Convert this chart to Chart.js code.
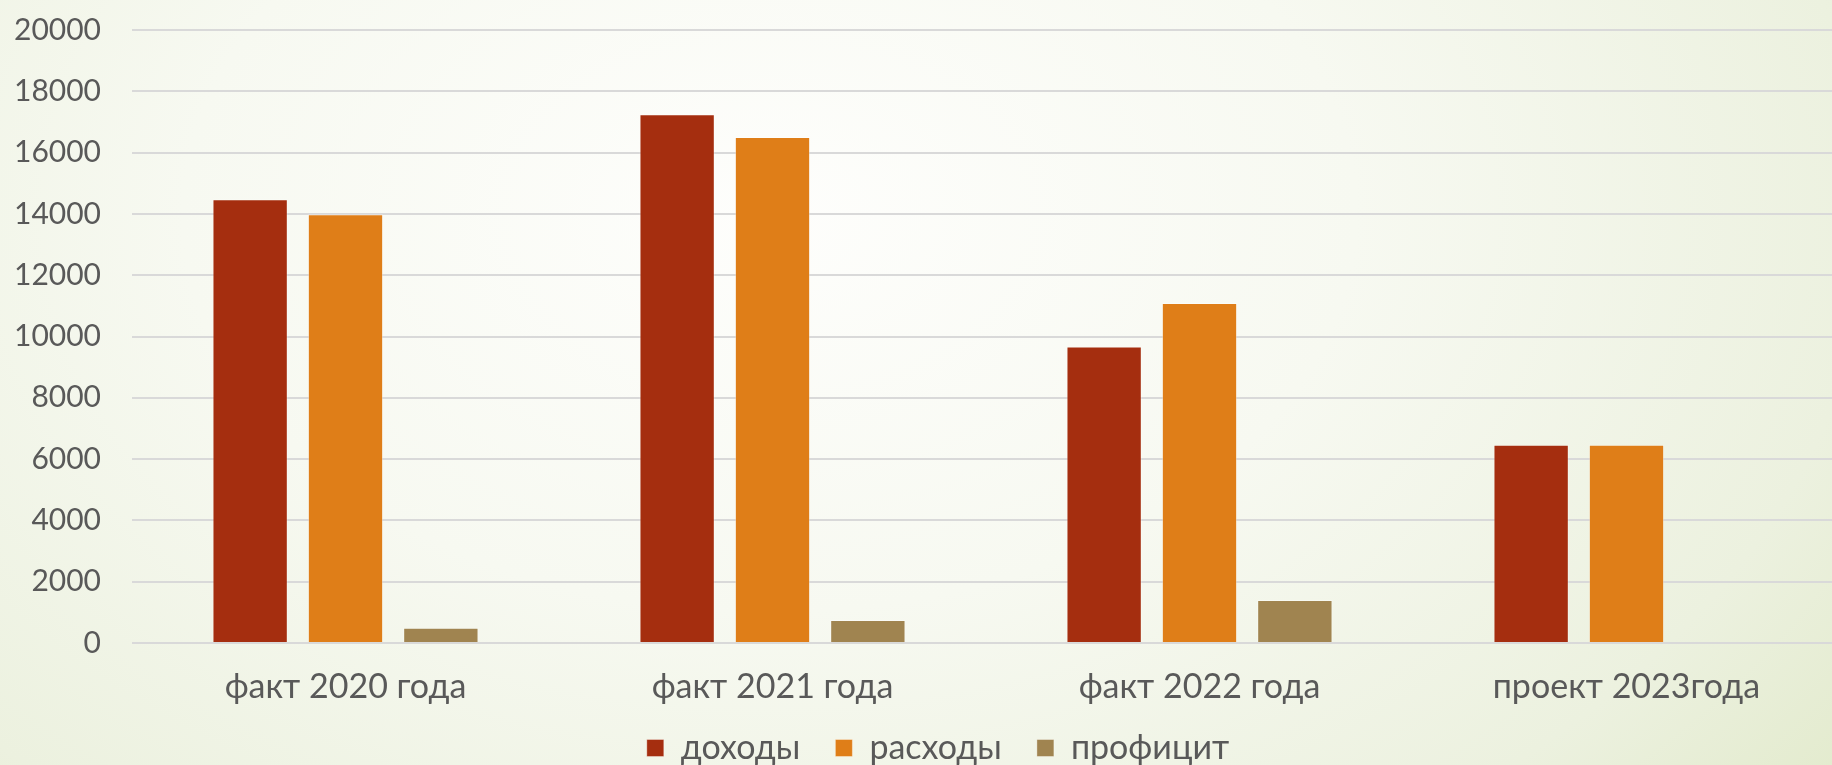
<!DOCTYPE html>
<html lang="ru">
<head>
<meta charset="utf-8">
<title>Доходы и расходы</title>
<script src="https://cdn.jsdelivr.net/npm/chart.js@4.4.1/dist/chart.umd.min.js"></script>
<style>
  html,body{margin:0;padding:0;overflow:hidden;width:1832px;height:765px;}
  body{background:radial-gradient(ellipse 80% 130% at 42% 28%, #fefefc 0%, #f7f9f1 40%, #ecf1df 75%, #dfe8c6 100%);}
  #wrap{position:relative;width:1840px;height:765px;}
</style>
</head>
<body>
<div id="wrap"><canvas id="chart"></canvas></div>
<script>
'use strict';

// категории и значения
const categories = ['факт 2020 года', 'факт 2021 года', 'факт 2022 года', 'проект 2023года'];
const incomes  = [14480, 17250, 9670, 6470];
const expenses = [13990, 16510, 11090, 6470];
const surplus  = [500, 750, 1400, null];
const seriesNames = ['доходы', 'расходы', 'профицит'];
const seriesColors = ['#a52e0f', '#df7e18', '#a08450'];

const FONT = 'Lato, "Noto Sans", "DejaVu Sans", sans-serif';
const GREY = '#595959';

// легенда: сдвиг вправо и вверх, как на исходной картинке
const legendShift = {
  id: 'legendShift',
  afterLayout(chart){
    const l = chart.legend; if(!l) return;
    l.left += 18; l.right += 18;
    l.top -= 35; l.bottom -= 35;
  }
};

function ds(i, data){
  return {
    label: seriesNames[i], data,
    backgroundColor: seriesColors[i],
    borderColor: 'rgba(255,255,255,0.35)', borderWidth: 1,
    categoryPercentage: 0.67, barPercentage: 0.79
  };
}

new Chart(document.getElementById('chart'), {
  type: 'bar',
  data: { labels: categories, datasets: [ds(0, incomes), ds(1, expenses), ds(2, surplus)] },
  plugins: [legendShift],
  options: {
    responsive: true, maintainAspectRatio: false, animation: false,
    layout: { padding: { top: 0, left: 0, right: 0, bottom: -45 } },
    plugins: {
      tooltip: { enabled: false },
      legend: {
        position: 'bottom',
        labels: { color: GREY, font: { family: FONT, size: 34, lineHeight: 1 }, boxWidth: 17, boxHeight: 17, padding: 35 }
      }
    },
    scales: {
      x: {
        grid: { display: false, drawTicks: false },
        border: { display: false },
        ticks: { color: GREY, font: { family: FONT, size: 34, lineHeight: 1 }, padding: 27, maxRotation: 0 }
      },
      y: {
        min: 0, max: 20000,
        afterFit: s => { s.width = 132; s.paddingTop = 30; s.paddingBottom = 0; },
        grid: { color: '#d9d9d9', lineWidth: 2, drawTicks: false },
        border: { display: false },
        ticks: { stepSize: 2000, color: GREY, font: { family: FONT, size: 30 }, padding: 31, callback: v => String(v) }
      }
    }
  }
});
</script>
</body>
</html>
